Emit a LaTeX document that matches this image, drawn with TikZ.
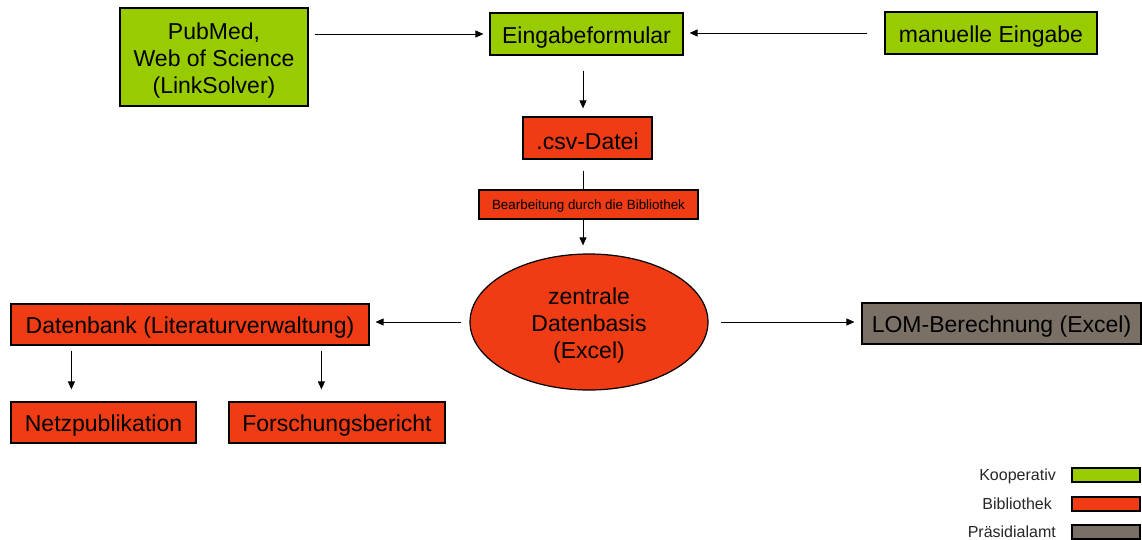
\documentclass[tikz,border=0pt]{standalone}
\usepackage{fontspec}
\setmainfont{Liberation Sans}
\usetikzlibrary{arrows.meta,shapes.geometric}
\definecolor{koop}{HTML}{99CC00}
\definecolor{bib}{HTML}{F03C14}
\definecolor{praes}{HTML}{7A7066}
\newcommand\dnline[1]{\raisebox{-3.5pt}[\height][\depth]{#1}}
\tikzset{
  box/.style={draw=black,line width=1.2pt,inner sep=0pt,align=center,font=\fontsize{23}{27}\selectfont},
  gbox/.style={box,fill=koop},
  rbox/.style={box,fill=bib},
  pbox/.style={box,fill=praes},
  arr/.style={line width=0.9pt,-{Triangle[length=8pt,width=7pt]}},
  ln/.style={line width=0.9pt},
  legtext/.style={anchor=east,inner sep=0pt,font=\fontsize{16}{18}\selectfont,text=black!85},
  legbox/.style={draw=black,line width=1.2pt,minimum width=68pt,minimum height=14pt,inner sep=0pt}
}
\begin{document}
\begin{tikzpicture}[x=1pt,y=-1pt]
\useasboundingbox (0,0) rectangle (1142,540);
% nodes
\node[gbox,minimum width=188pt,minimum height=98pt] (pub) at (214,57) {\dnline{PubMed,}\\\dnline{Web of Science}\\\dnline{(LinkSolver)}};
\node[gbox,minimum width=193pt,minimum height=42pt] (ein) at (586.5,34) {\dnline{Eingabeformular}};
\node[gbox,minimum width=212pt,minimum height=42pt] (man) at (991,33) {\dnline{manuelle Eingabe}};
\node[rbox,minimum width=129pt,minimum height=42pt] (csv) at (587.5,138) {\dnline{.csv-Datei}};
\node[rbox,minimum width=219pt,minimum height=29pt,font=\fontsize{13.4}{15}\selectfont] (bea) at (588.5,204.5) {\raisebox{-1.5pt}[\height][\depth]{Bearbeitung durch die Bibliothek}};
\node[ellipse,draw=black,line width=1.2pt,fill=bib,minimum width=238pt,minimum height=136pt,inner sep=0pt,align=center,font=\fontsize{23}{27}\selectfont] (zen) at (589,322) {\dnline{zentrale}\\\dnline{Datenbasis}\\\dnline{(Excel)}};
\node[rbox,minimum width=358pt,minimum height=41pt] (dat) at (190,324.5) {\dnline{Datenbank (Literaturverwaltung)}};
\node[pbox,minimum width=279pt,minimum height=41pt] (lom) at (1001.5,323.5) {\dnline{LOM-Berechnung (Excel)}};
\node[rbox,minimum width=185pt,minimum height=41pt] (net) at (103.5,422.5) {\dnline{Netzpublikation}};
\node[rbox,minimum width=216pt,minimum height=41pt] (for) at (337,422.5) {\dnline{Forschungsbericht}};
% connectors
\draw[arr,shorten <=6pt,shorten >=6pt] (pub.east |- ein.west) -- (ein.west);
\draw[arr,shorten <=17pt,shorten >=6pt] (man.west) -- (man.west -| ein.east);
\draw[arr,shorten <=15pt,shorten >=8pt] ([xshift=-3.5pt]ein.south) -- ([xshift=-4.5pt]csv.north);
\draw[ln,shorten <=11pt] ([xshift=-4.5pt]csv.south) -- ([xshift=-5.5pt]bea.north);
\draw[arr,shorten >=8pt] ([xshift=-5.5pt]bea.south) -- ([xshift=-6pt]zen.north);
\draw[arr,shorten <=8pt,shorten >=6pt] (zen.west) -- (dat.east |- zen.west);
\draw[arr,shorten <=12pt,shorten >=7pt] (zen.east) -- (lom.west |- zen.east);
\draw[arr,shorten <=5pt,shorten >=12pt] ([xshift=61pt]dat.south west) -- ([xshift=61pt]net.north west);
\draw[arr,shorten <=5pt,shorten >=12pt] ([xshift=311pt]dat.south west) -- ([xshift=93pt]for.north west);
% legend
\node[legbox,fill=koop] (lk) at (1106,475) {};
\node[legbox,fill=bib] (lb) at (1106,504) {};
\node[legbox,fill=praes] (lp) at (1106,532) {};
\node[legtext] (tk) at (1056,476) {Kooperativ};
\node[legtext] (tb) at (1052,504) {Bibliothek};
\node[legtext] (tp) at (1056,532) {Präsidialamt};
\end{tikzpicture}
\end{document}
